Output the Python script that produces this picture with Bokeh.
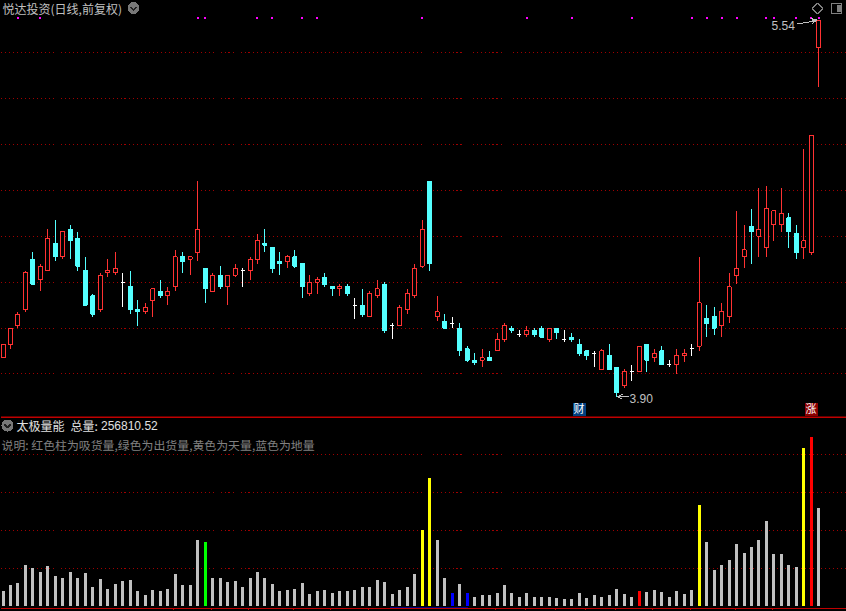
from bokeh.plotting import figure
from bokeh.layouts import column
from bokeh.models import Range1d, Grid, FixedTicker, Span, LinearAxis, Arrow, OpenHead
from bokeh.core.properties import value
from bokeh.embed import file_html
from bokeh.resources import INLINE

open_ = [4.07,4.13,4.21,4.28,4.50,4.41,4.45,4.57,4.51,4.63,
         4.59,4.45,4.34,4.28,4.44,4.44,4.40,4.38,4.28,4.27,
         4.32,4.36,4.34,4.38,4.51,4.50,4.53,4.46,4.36,4.43,
         4.38,4.43,4.45,4.45,4.50,4.57,4.55,4.49,4.49,4.51,
         4.48,4.35,4.40,4.42,4.38,4.37,4.38,4.30,4.30,4.25,
         4.34,4.39,4.21,4.21,4.28,4.34,4.47,4.84,4.25,4.23,
         4.22,4.20,4.11,4.06,4.06,4.07,4.10,4.15,4.20,4.17,
         4.17,4.19,4.20,4.15,4.20,4.15,4.16,4.13,4.10,4.09,
         4.02,4.08,4.03,3.95,4.01,4.01,4.13,4.07,4.10,4.04,
         4.04,4.08,4.11,4.12,4.24,4.25,4.21,4.25,4.43,4.51,
         4.64,4.60,4.55,4.65,4.65,4.68,4.61,4.55,4.53,5.42]
high = [4.13,4.20,4.27,4.45,4.53,4.48,4.63,4.67,4.62,4.65,
        4.62,4.51,4.35,4.44,4.50,4.53,4.44,4.45,4.32,4.31,
        4.37,4.41,4.38,4.54,4.53,4.51,4.84,4.46,4.44,4.47,
        4.43,4.48,4.46,4.51,4.61,4.63,4.55,4.53,4.52,4.54,
        4.48,4.43,4.42,4.44,4.38,4.39,4.39,4.33,4.37,4.36,
        4.41,4.40,4.22,4.30,4.37,4.48,4.67,4.84,4.34,4.26,
        4.25,4.22,4.12,4.09,4.11,4.10,4.18,4.22,4.21,4.19,
        4.21,4.20,4.21,4.20,4.20,4.19,4.18,4.15,4.10,4.10,
        4.11,4.13,4.03,4.02,4.04,4.12,4.13,4.11,4.12,4.06,
        4.11,4.11,4.13,4.51,4.30,4.29,4.31,4.44,4.71,4.65,
        4.72,4.81,4.82,4.71,4.81,4.70,4.65,4.98,5.04,5.54]
low = [4.07,4.11,4.20,4.27,4.39,4.36,4.45,4.49,4.50,4.50,
       4.45,4.30,4.25,4.27,4.42,4.43,4.29,4.26,4.21,4.26,
       4.25,4.33,4.30,4.36,4.44,4.43,4.49,4.31,4.36,4.37,
       4.30,4.42,4.38,4.41,4.48,4.53,4.44,4.43,4.46,4.46,
       4.33,4.34,4.35,4.38,4.34,4.34,4.34,4.24,4.25,4.25,
       4.33,4.18,4.15,4.21,4.26,4.33,4.46,4.45,4.23,4.20,
       4.20,4.08,4.05,4.04,4.03,4.06,4.10,4.14,4.18,4.16,
       4.16,4.16,4.16,4.14,4.15,4.14,4.14,4.08,4.06,4.03,
       4.02,4.02,3.90,3.94,3.97,4.01,4.01,4.05,4.04,4.03,
       4.00,4.05,4.08,4.10,4.16,4.17,4.16,4.22,4.39,4.46,
       4.48,4.51,4.51,4.58,4.62,4.55,4.50,4.50,4.52,5.25]
close = [4.13,4.20,4.26,4.44,4.39,4.47,4.59,4.51,4.62,4.58,
         4.47,4.30,4.26,4.43,4.45,4.46,4.40,4.28,4.27,4.29,
         4.37,4.34,4.36,4.51,4.49,4.51,4.63,4.37,4.43,4.38,
         4.43,4.46,4.45,4.50,4.58,4.56,4.46,4.48,4.51,4.47,
         4.38,4.40,4.41,4.39,4.37,4.38,4.35,4.30,4.26,4.35,
         4.37,4.19,4.21,4.29,4.35,4.46,4.63,4.48,4.27,4.20,
         4.22,4.10,4.06,4.05,4.07,4.06,4.15,4.21,4.19,4.17,
         4.19,4.17,4.16,4.20,4.18,4.15,4.15,4.09,4.08,4.09,
         4.10,4.02,3.92,4.01,4.01,4.12,4.06,4.09,4.04,4.04,
         4.08,4.09,4.11,4.31,4.22,4.20,4.27,4.38,4.46,4.54,
         4.62,4.63,4.72,4.71,4.70,4.62,4.53,4.58,5.04,5.54]

# volume in thousands
volume = [39,54,60,107,99,89,104,78,75,89,
          73,86,49,70,44,57,65,68,39,28,
          41,39,44,83,54,54,173,168,75,73,
          62,65,49,75,89,75,57,39,41,46,
          60,31,39,41,33,39,39,41,49,49,
          68,62,31,41,49,83,199,336,173,73,
          33,57,33,25,28,28,33,54,33,23,
          33,25,23,23,20,18,18,33,20,28,
          25,28,44,31,23,39,36,41,36,23,
          39,31,41,267,168,94,107,120,162,139,
          154,173,225,136,136,107,102,415,446,257]
yellow_bars = [56,57,93,107]
red_bars = [85,108]
green_bars = [27]
blue_bars = [60,62]
flag_days = [2,5,26,27,34,36,40,42,56,70,76,84,92,94,96,98,102,103,106,108,109]
time_ticks = [23,28,33,39,44,49,66,70,74,78,82,87,92,98,103]
price_grid = [4.0,4.2,4.4,4.6,4.8,5.0,5.2,5.4]
volume_grid = [100,200,300,400]

BG = "#000000"
RED = "#ff3232"
CYAN = "#54ffff"
DARK = "#c00000"
GRIDC = "#a00000"
GREY = "#c0c0c0"

W = 846
H1 = 416
H2 = 195
F2 = 192
X0, DX = 2.5, 7.485
P_TOP, P_PX = 5.626, 0.004354
V0_PX, V_PX = 189.5, 100/38

def ix(px):
    return (px - X0) / DX
def py(y):
    return P_TOP - y * P_PX
def vy(y):
    return (V0_PX - (y - 416)) * V_PX

x_range = Range1d(ix(0), ix(W))

def make(h, yr):
    f = figure(width=W, height=h, x_range=x_range, y_range=yr,
               x_axis_type=None, y_axis_type=None,
               output_backend="svg", toolbar_location=None,
               background_fill_color=BG, border_fill_color=BG,
               min_border=0, outline_line_color=None)
    return f

p1 = make(H1, Range1d(py(H1), py(0)))
p2 = make(H2, Range1d(vy(416 + F2), vy(416)))
p2.frame_height = F2
p2.frame_width = W
p2.min_border_bottom = 0

for f, tk in ((p1, price_grid), (p2, volume_grid)):
    f.add_layout(Grid(dimension=1, ticker=FixedTicker(ticks=tk),
                      grid_line_color=GRIDC, grid_line_dash="1 3", grid_line_width=1))
    f.add_layout(Span(location=ix(845.5), dimension="height", line_color=DARK, line_width=1))

# --- candles
idx = list(range(len(close)))
ups = [i for i in idx if close[i] > open_[i]]
dns = [i for i in idx if close[i] < open_[i]]
flat = [i for i in idx if close[i] == open_[i]]

def pick(a, ii):
    return [a[i] for i in ii]

for ii, col in ((ups, RED), (dns, CYAN), (flat, "#ffffff")):
    p1.segment(x0=ii, x1=ii, y0=pick(low, ii), y1=pick(high, ii), line_color=col, line_width=1)
p1.vbar(x=ups, width=4/DX, top=pick(close, ups), bottom=pick(open_, ups),
        fill_color=BG, line_color=RED, line_width=1)
p1.vbar(x=dns, width=4/DX, top=pick(open_, dns), bottom=pick(close, dns),
        fill_color=CYAN, line_color=CYAN, line_width=1)
p1.segment(x0=[i - 2/DX for i in flat], x1=[i + 2/DX for i in flat],
           y0=pick(close, flat), y1=pick(close, flat), line_color="#ffffff", line_width=1)

# flags along the top
p1.rect(x=flag_days, y=[py(17.7)] * len(flag_days), width=2/DX, height=2*P_PX,
        fill_color="#ff00ff", line_color=None)

def txt(f, x, y, s, color, size="12px", font="Noto Sans CJK SC", style="normal", align="left"):
    f.text(x=[x], y=[y], text=[s], text_color=color, text_font_size=size,
           text_font=value(font), text_baseline="middle", text_align=align, text_font_style=style)

txt(p1, ix(2), py(7.5), "悦达投资(日线,前复权)", GREY)

def chevron_icon(f, cx, cy, yf):
    f.scatter(x=[ix(cx)], y=[yf(cy)], size=12, marker="circle", fill_color="#787878", line_color=None)
    f.line(x=[ix(cx-3), ix(cx), ix(cx+3)], y=[yf(cy-1), yf(cy+2), yf(cy-1)], line_color="#202020", line_width=1.5)

chevron_icon(p1, 133, 7.5, py)

# top-right icons
p1.patch(x=[ix(817), ix(822.5), ix(817), ix(811.5)], y=[py(2.5), py(8), py(13.5), py(8)],
         fill_color=None, line_color="#808080", line_width=1)
p1.rect(x=[ix(836)], y=[py(8)], width=10/DX, height=10*P_PX, fill_color=None, line_color="#808080", line_width=1.5)
p1.rect(x=[ix(838.5)], y=[py(8)], width=4/DX, height=7*P_PX, fill_color="#808080", line_color=None)

# extreme price marks
hi_i = high.index(max(high))
lo_i = low.index(min(low))
txt(p1, ix(771), py(25), f"{max(high):.2f}", GREY, "12px", "Liberation Sans")
txt(p1, ix(629), py(397.5), f"{min(low):.2f}", GREY, "12px", "Liberation Sans")
p1.line(x=[ix(797), ix(806), ix(813)], y=[py(23.5), py(22), py(20.5)], line_color=GREY, line_width=1)
p1.add_layout(Arrow(end=OpenHead(size=5, line_color=GREY, line_width=1),
                    x_start=ix(812), y_start=py(20.5), x_end=hi_i - 2.5/DX + 0.05, y_end=py(19.5),
                    line_color=GREY, line_width=1))
p1.add_layout(Arrow(end=OpenHead(size=5, line_color=GREY, line_width=1),
                    x_start=ix(628), y_start=py(396.3), x_end=lo_i + 0.1, y_end=py(396.3),
                    line_color=GREY, line_width=1))

# badges
p1.quad(left=[ix(572)], right=[ix(585)], top=[py(402)], bottom=[py(416)], fill_color="#004080", line_color=None)
txt(p1, ix(578.5), py(407.5), "财", "#ffffff", "11px", align="center")
p1.quad(left=[ix(804)], right=[ix(817)], top=[py(402)], bottom=[py(416)], fill_color="#8b0000", line_color=None)
txt(p1, ix(810.5), py(407.5), "涨", "#ffffff", "11px", align="center")

# --- volume panel
special = set(yellow_bars + red_bars + green_bars + blue_bars)
plain = [i for i in idx if i not in special]
for ii, col in ((plain, "#c0c0c0"), (yellow_bars, "#ffff00"), (red_bars, "#ff0000"),
                (green_bars, "#00ff00"), (blue_bars, "#0000ff")):
    p2.vbar(x=ii, width=3/DX, top=pick(volume, ii), bottom=0, fill_color=col, line_color=None)

ax = LinearAxis(ticker=FixedTicker(ticks=[t - 0.2 for t in time_ticks]),
                axis_line_color=DARK, axis_line_width=1,
                major_tick_line_color=DARK, major_tick_in=0, major_tick_out=2,
                minor_tick_line_color=None, major_label_text_font_size="1px",
                major_label_text_color=None, major_label_standoff=0)
p2.add_layout(ax, "below")
p2.add_layout(Span(location=vy(416.5), dimension="width", line_color=DARK, line_width=1.5))
p2.segment(x0=[ix(389)], x1=[ix(467)], y0=[vy(607.5)], y1=[vy(607.5)], line_color="#000080", line_width=1.5)

chevron_icon(p2, 7, 425, vy)
txt(p2, ix(16), vy(425), "太极量能", "#e0e0e0")
txt(p2, ix(70), vy(425), "总量:", "#e0e0e0")
txt(p2, ix(100.5), vy(425), "256810.52", "#e0e0e0", "12px", "Liberation Sans")
txt(p2, ix(1), vy(444), "说明: 红色柱为吸货量,绿色为出货量,黄色为天量,蓝色为地量", "#808080", "11.9px")

page = column(p1, p2, spacing=0)
html = file_html(page, INLINE)
html = html.replace("<head>", "<head><style>html,body{margin:0;padding:0;background:#000;overflow:hidden;shape-rendering:crispEdges}</style>", 1)
open("out.html", "w").write(html)
